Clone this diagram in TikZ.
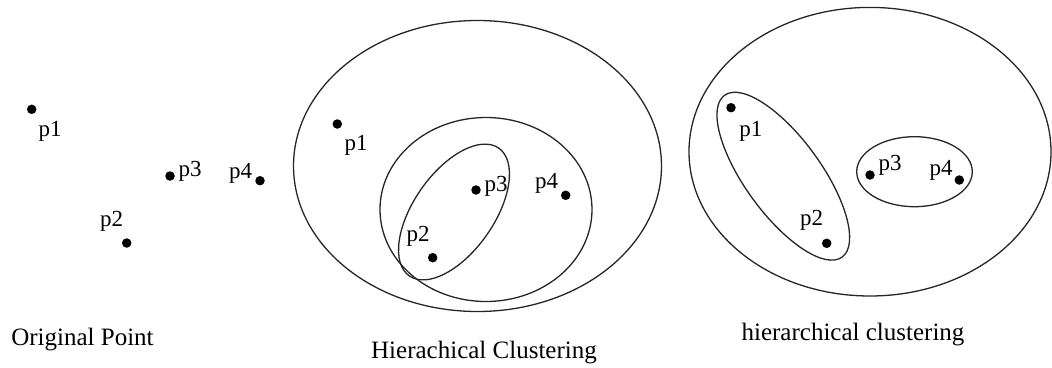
\documentclass[tikz,border=0pt]{standalone}
\usepackage{fontspec}
\setmainfont{Liberation Serif}
\begin{document}
\begin{tikzpicture}[x=1pt,y=-1pt,
  dotpt/.style={circle,fill=black,inner sep=0pt,minimum size=9.5pt},
  lbl/.style={anchor=base,inner sep=0pt,font=\fontsize{23}{23}\selectfont},
  captext/.style={anchor=base,inner sep=0pt,font=\fontsize{25}{25}\selectfont},
  cluster/.style={draw=black!85,line width=1.3pt}]
\useasboundingbox (0,0) rectangle (1052,367);

% ---- original points ----
\node[dotpt] (a1) at (31.7,109.3) {};
\node[dotpt] (a2) at (126.7,243) {};
\node[dotpt] (a3) at (170,176) {};
\node[dotpt] (a4) at (260,180.7) {};
\node[lbl] (la1) at (50,136.7) {p1};
\node[lbl] (la2) at (111.7,226.7) {p2};
\node[lbl] (la3) at (190,176.7) {p3};
\node[lbl] (la4) at (240.5,178.3) {p4};
\node[captext] (ca) at (82.5,345) {Original Point};

% ---- nested clusters ----
\draw[cluster] (477.5,166) ellipse [x radius=184pt, y radius=145.5pt];
\draw[cluster] (486,209.5) ellipse [x radius=106pt, y radius=92pt];
\draw[cluster] (454,212) ellipse [x radius=78pt, y radius=40pt, rotate=55];
\node[dotpt] (b1) at (337.3,124) {};
\node[dotpt] (b2) at (432.7,257.7) {};
\node[dotpt] (b3) at (476,190) {};
\node[dotpt] (b4) at (565.7,195.3) {};
\node[lbl] (lb1) at (356,150) {p1};
\node[lbl] (lb2) at (418,241.7) {p2};
\node[lbl] (lb3) at (496,191.7) {p3};
\node[lbl] (lb4) at (546.7,188.3) {p4};
\node[captext] (cb) at (484,358.3) {Hierachical Clustering};

% ---- two-level clusters ----
\draw[cluster] (870,151.7) ellipse [x radius=181pt, y radius=144.3pt];
\draw[cluster] (783.3,176.2) ellipse [x radius=100pt, y radius=38pt, rotate=-54];
\draw[cluster] (914.5,171.7) ellipse [x radius=57.8pt, y radius=35pt];
\node[dotpt] (c1) at (731,107.7) {};
\node[dotpt] (c2) at (826.7,243.3) {};
\node[dotpt] (c3) at (870,175) {};
\node[dotpt] (c4) at (959.3,180) {};
\node[lbl] (lc1) at (750.8,136.7) {p1};
\node[lbl] (lc2) at (811.7,225) {p2};
\node[lbl] (lc3) at (890,170) {p3};
\node[lbl] (lc4) at (941,175) {p4};
\node[captext] (cc) at (853,340) {hierarchical clustering};
\end{tikzpicture}
\end{document}
